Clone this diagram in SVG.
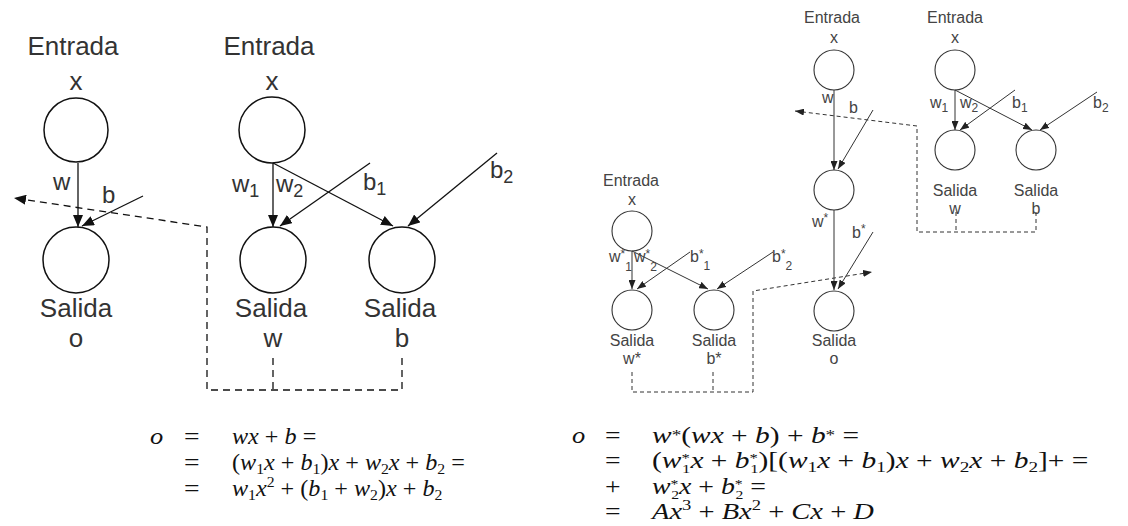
<svg xmlns="http://www.w3.org/2000/svg" width="1128" height="526" viewBox="0 0 1128 526">
<style>
.bg{fill:#fff}
.nl{fill:none;stroke:#111;stroke-width:1.5}
.ns{fill:none;stroke:#333;stroke-width:1.1}
.tL{font-family:"Liberation Sans",Arial,sans-serif;font-size:26px;fill:#333}
.lL{font-family:"Liberation Sans",Arial,sans-serif;font-size:24px;fill:#333}
.tS{font-family:"Liberation Sans",Arial,sans-serif;font-size:16px;fill:#444}
.sub{font-size:18px}
.subs{font-size:12px}
.cL{stroke:#111;stroke-width:1.3;fill:none}
.cS{stroke:#333;stroke-width:1;fill:none}
.dL{stroke:#111;stroke-width:1.3;fill:none;stroke-dasharray:7 5}
.dS{stroke:#333;stroke-width:1;fill:none;stroke-dasharray:4 3}
.m{font-family:"Liberation Serif","Times New Roman",serif;font-size:23px;fill:#111}
.i{font-style:italic}
.ms{font-size:15px}
.mt{font-size:13px}
</style>
<defs>
<marker id="aL" viewBox="0 0 12 10" refX="12" refY="5" markerWidth="12" markerHeight="10" markerUnits="userSpaceOnUse" orient="auto"><path d="M0,0 L12,5 L0,10 z" fill="#111"/></marker>
<marker id="aS" viewBox="0 0 9 7" refX="9" refY="3.5" markerWidth="9" markerHeight="7" markerUnits="userSpaceOnUse" orient="auto"><path d="M0,0 L9,3.5 L0,7 z" fill="#222"/></marker>
</defs>
<rect class="bg" x="0" y="0" width="1128" height="526"/>

<g id="connectors">
  <line class="cL" x1="78" y1="163" x2="78" y2="227" marker-end="url(#aL)"/>
  <line class="cL" x1="143" y1="196" x2="82" y2="226" marker-end="url(#aL)"/>
  <line class="cL" x1="273" y1="163" x2="273" y2="227" marker-end="url(#aL)"/>
  <line class="cL" x1="273" y1="163" x2="393" y2="226" marker-end="url(#aL)"/>
  <line class="cL" x1="370" y1="163" x2="280" y2="226" marker-end="url(#aL)"/>
  <line class="cL" x1="497" y1="153" x2="408" y2="226" marker-end="url(#aL)"/>
  <path class="dL" d="M402,358 V390 H207 V227 L14,198" marker-end="url(#aL)"/>
  <path class="dL" d="M273,358 V390"/>
  <text class="lL" x="53" y="190">w</text>
  <text class="lL" x="102" y="203">b</text>
  <text class="lL" x="232" y="192">w<tspan class="sub" dy="5">1</tspan></text>
  <text class="lL" x="276" y="192">w<tspan class="sub" dy="5">2</tspan></text>
  <text class="lL" x="363" y="190">b<tspan class="sub" dy="5">1</tspan></text>
  <text class="lL" x="490" y="178">b<tspan class="sub" dy="5">2</tspan></text>
  <line class="cS" x1="834" y1="90" x2="834" y2="170" marker-end="url(#aS)"/>
  <line class="cS" x1="873" y1="110" x2="838" y2="169" marker-end="url(#aS)"/>
  <line class="cS" x1="834" y1="210" x2="834" y2="290" marker-end="url(#aS)"/>
  <line class="cS" x1="873" y1="232" x2="838" y2="289" marker-end="url(#aS)"/>
  <line class="cS" x1="955" y1="90" x2="955" y2="130" marker-end="url(#aS)"/>
  <line class="cS" x1="955" y1="90" x2="1032" y2="130" marker-end="url(#aS)"/>
  <line class="cS" x1="1015" y1="90" x2="960" y2="130" marker-end="url(#aS)"/>
  <line class="cS" x1="1097" y1="92" x2="1040" y2="130" marker-end="url(#aS)"/>
  <line class="cS" x1="632" y1="251" x2="632" y2="289" marker-end="url(#aS)"/>
  <line class="cS" x1="632" y1="251" x2="708" y2="289" marker-end="url(#aS)"/>
  <line class="cS" x1="690" y1="252" x2="637" y2="289" marker-end="url(#aS)"/>
  <line class="cS" x1="773" y1="252" x2="717" y2="289" marker-end="url(#aS)"/>
  <path class="dS" d="M1036,212 V232 H917 V126 L795,111" marker-end="url(#aS)"/>
  <path class="dS" d="M956,212 V232"/>
  <path class="dS" d="M632,372 V392 H753 V291 L872,272" marker-end="url(#aS)"/>
  <path class="dS" d="M713,372 V392"/>
  <text class="tS" x="822" y="103">w</text>
  <text class="tS" x="849" y="113">b</text>
  <text class="tS" x="812" y="227">w<tspan class="subs" dy="-5">*</tspan></text>
  <text class="tS" x="852" y="238">b<tspan class="subs" dy="-5">*</tspan></text>
  <text class="tS" x="930" y="108">w<tspan class="subs" dy="4">1</tspan></text>
  <text class="tS" x="960" y="108">w<tspan class="subs" dy="4">2</tspan></text>
  <text class="tS" x="1012" y="108">b<tspan class="subs" dy="4">1</tspan></text>
  <text class="tS" x="1093" y="108">b<tspan class="subs" dy="4">2</tspan></text>
  <text class="tS" x="609" y="262">w<tspan class="subs" dy="-4">*</tspan><tspan class="subs" dy="13">1</tspan></text>
  <text class="tS" x="634" y="262">w<tspan class="subs" dy="-4">*</tspan><tspan class="subs" dy="13">2</tspan></text>
  <text class="tS" x="690" y="262">b<tspan class="subs" dy="-4">*</tspan><tspan class="subs" dy="12">1</tspan></text>
  <text class="tS" x="772" y="262">b<tspan class="subs" dy="-4">*</tspan><tspan class="subs" dy="12">2</tspan></text>
</g>

<g id="inL1"><text class="tL" x="73" y="55" text-anchor="middle">Entrada</text><text class="tL" x="76" y="90" text-anchor="middle">x</text><circle class="nl" cx="76" cy="130" r="32"/></g>
<g id="outLo"><circle class="nl" cx="76" cy="260" r="33"/><text class="tL" x="76" y="317" text-anchor="middle">Salida</text><text class="tL" x="76" y="347" text-anchor="middle">o</text></g>
<g id="inL2"><text class="tL" x="269" y="55" text-anchor="middle">Entrada</text><text class="tL" x="272" y="90" text-anchor="middle">x</text><circle class="nl" cx="272" cy="130" r="33"/></g>
<g id="outLw"><circle class="nl" cx="273" cy="260" r="33"/><text class="tL" x="271" y="317" text-anchor="middle">Salida</text><text class="tL" x="273" y="347" text-anchor="middle">w</text></g>
<g id="outLb"><circle class="nl" cx="402" cy="260" r="33"/><text class="tL" x="400" y="317" text-anchor="middle">Salida</text><text class="tL" x="402" y="347" text-anchor="middle">b</text></g>

<g id="inR1"><text class="tS" x="832" y="23" text-anchor="middle">Entrada</text><text class="tS" x="834" y="43" text-anchor="middle">x</text><circle class="ns" cx="834" cy="70" r="20"/></g>
<g id="midR"><circle class="ns" cx="834" cy="190" r="20"/></g>
<g id="outRo"><circle class="ns" cx="834" cy="311" r="20"/><text class="tS" x="834" y="346" text-anchor="middle">Salida</text><text class="tS" x="834" y="364" text-anchor="middle">o</text></g>
<g id="inR2"><text class="tS" x="955" y="23" text-anchor="middle">Entrada</text><text class="tS" x="955" y="43" text-anchor="middle">x</text><circle class="ns" cx="955" cy="70" r="20"/></g>
<g id="outRw"><circle class="ns" cx="955" cy="150" r="20"/><text class="tS" x="955" y="196" text-anchor="middle">Salida</text><text class="tS" x="955" y="214" text-anchor="middle">w</text></g>
<g id="outRb"><circle class="ns" cx="1036" cy="150" r="20"/><text class="tS" x="1036" y="196" text-anchor="middle">Salida</text><text class="tS" x="1036" y="214" text-anchor="middle">b</text></g>
<g id="inR3"><text class="tS" x="631" y="186" text-anchor="middle">Entrada</text><text class="tS" x="632" y="205" text-anchor="middle">x</text><circle class="ns" cx="632" cy="231" r="20"/></g>
<g id="outRws"><circle class="ns" cx="632" cy="310" r="20"/><text class="tS" x="632" y="346" text-anchor="middle">Salida</text><text class="tS" x="632" y="364" text-anchor="middle">w*</text></g>
<g id="outRbs"><circle class="ns" cx="714" cy="310" r="20"/><text class="tS" x="714" y="346" text-anchor="middle">Salida</text><text class="tS" x="714" y="364" text-anchor="middle">b*</text></g>

<g id="eqLeft" class="m">
  <text transform="translate(150,444) scale(1.15,1)" class="i">o</text>
  <text transform="translate(184,444) scale(1.2,1)">=</text>
  <text transform="translate(232,444) scale(1.05,1)"><tspan class="i">wx</tspan> + <tspan class="i">b</tspan> =</text>
  <text transform="translate(184,470) scale(1.2,1)">=</text>
  <text transform="translate(232,470) scale(1.05,1)">(<tspan class="i">w</tspan><tspan class="ms" dy="4">1</tspan><tspan class="i" dy="-4">x</tspan> + <tspan class="i">b</tspan><tspan class="ms" dy="4">1</tspan><tspan dy="-4">)</tspan><tspan class="i">x</tspan> + <tspan class="i">w</tspan><tspan class="ms" dy="4">2</tspan><tspan class="i" dy="-4">x</tspan> + <tspan class="i">b</tspan><tspan class="ms" dy="4">2</tspan><tspan dy="-4"> =</tspan></text>
  <text transform="translate(184,496) scale(1.2,1)">=</text>
  <text transform="translate(232,496) scale(1.05,1)"><tspan class="i">w</tspan><tspan class="ms" dy="4">1</tspan><tspan class="i" dy="-4">x</tspan><tspan class="ms" dy="-9">2</tspan><tspan dy="9"> + (</tspan><tspan class="i">b</tspan><tspan class="ms" dy="4">1</tspan><tspan dy="-4"> + </tspan><tspan class="i">w</tspan><tspan class="ms" dy="4">2</tspan><tspan dy="-4">)</tspan><tspan class="i">x</tspan> + <tspan class="i">b</tspan><tspan class="ms" dy="4">2</tspan></text>
</g>

<g id="eqRight" class="m">
  <text transform="translate(572,443) scale(1.15,1)" class="i">o</text>
  <text transform="translate(605,443) scale(1.2,1)">=</text>
  <text transform="translate(652,443) scale(1.28,1)"><tspan class="i">w</tspan><tspan class="ms" dy="-3">*</tspan><tspan dy="3">(</tspan><tspan class="i">wx</tspan> + <tspan class="i">b</tspan>) + <tspan class="i">b</tspan><tspan class="ms" dy="-3">*</tspan><tspan dy="3"> =</tspan></text>
  <text transform="translate(605,468) scale(1.2,1)">=</text>
  <text transform="translate(652,468) scale(1.28,1)">(<tspan class="i">w</tspan><tspan class="mt" dy="-6">*</tspan><tspan class="mt" dx="-6" dy="11">1</tspan><tspan class="i" dy="-5">x</tspan> + <tspan class="i">b</tspan><tspan class="mt" dy="-6">*</tspan><tspan class="mt" dx="-6" dy="11">1</tspan><tspan dy="-5">)[(</tspan><tspan class="i">w</tspan><tspan class="ms" dy="4">1</tspan><tspan class="i" dy="-4">x</tspan> + <tspan class="i">b</tspan><tspan class="ms" dy="4">1</tspan><tspan dy="-4">)</tspan><tspan class="i">x</tspan> + <tspan class="i">w</tspan><tspan class="ms" dy="4">2</tspan><tspan class="i" dy="-4">x</tspan> + <tspan class="i">b</tspan><tspan class="ms" dy="4">2</tspan><tspan dy="-4">]+ =</tspan></text>
  <text transform="translate(605,494) scale(1.2,1)">+</text>
  <text transform="translate(652,494) scale(1.21,1)"><tspan class="i">w</tspan><tspan class="mt" dy="-6">*</tspan><tspan class="mt" dx="-6" dy="11">2</tspan><tspan class="i" dy="-5">x</tspan> + <tspan class="i">b</tspan><tspan class="mt" dy="-6">*</tspan><tspan class="mt" dx="-6" dy="11">2</tspan><tspan dy="-5"> =</tspan></text>
  <text transform="translate(605,519) scale(1.2,1)">=</text>
  <text transform="translate(652,519) scale(1.24,1)"><tspan class="i">Ax</tspan><tspan class="ms" dy="-9">3</tspan><tspan dy="9"> + </tspan><tspan class="i">Bx</tspan><tspan class="ms" dy="-9">2</tspan><tspan dy="9"> + </tspan><tspan class="i">Cx</tspan> + <tspan class="i">D</tspan></text>
</g>
</svg>
